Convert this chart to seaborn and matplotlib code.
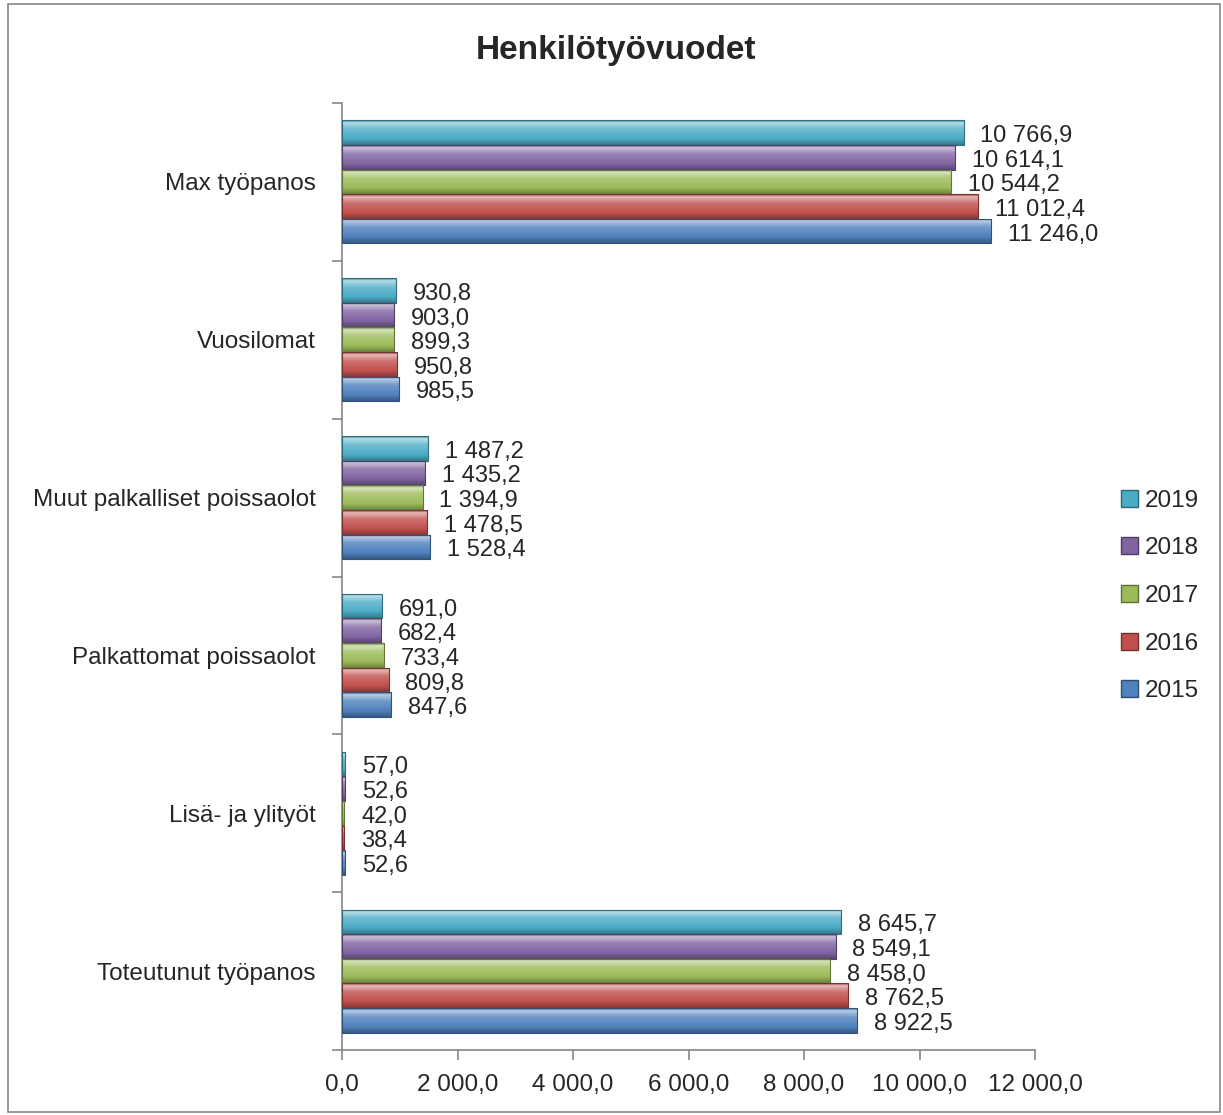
import numpy as np
import pandas as pd
import matplotlib
matplotlib.use("Agg")
import matplotlib.pyplot as plt
import matplotlib.colors as mcolors
from matplotlib.patches import Patch, Rectangle
import seaborn as sns

# Data
categories = ["Max työpanos", "Vuosilomat", "Muut palkalliset poissaolot",
              "Palkattomat poissaolot", "Lisä- ja ylityöt", "Toteutunut työpanos"]
years = ["2019", "2018", "2017", "2016", "2015"]
v2015 = [11246.0, 985.5, 1528.4, 847.6, 52.6, 8922.5]
v2016 = [11012.4, 950.8, 1478.5, 809.8, 38.4, 8762.5]
v2017 = [10544.2, 899.3, 1394.9, 733.4, 42.0, 8458.0]
v2018 = [10614.1, 903.0, 1435.2, 682.4, 52.6, 8549.1]
v2019 = [10766.9, 930.8, 1487.2, 691.0, 57.0, 8645.7]
colors = {"2019": "#4BACC6", "2018": "#8064A2", "2017": "#9BBB59",
          "2016": "#C0504D", "2015": "#4F81BD"}

series = {"2015": v2015, "2016": v2016, "2017": v2017, "2018": v2018, "2019": v2019}
rows = []
for y, vals in series.items():
    for c, v in zip(categories, vals):
        rows.append({"Kategoria": c, "Vuosi": y, "Arvo": v})
df = pd.DataFrame(rows)


def fi(v):
    return f"{v:,.1f}".replace(",", " ").replace(".", ",")


sns.set_style("white")
plt.rcParams["font.family"] = ["Liberation Sans Narrow", "Liberation Sans", "DejaVu Sans"]

fig = plt.figure(figsize=(12.23, 11.15), dpi=100)
ax = fig.add_axes([342 / 1223, 1 - 1050 / 1115, (1035 - 342) / 1223, (1050 - 103) / 1115])

sns.barplot(data=df, x="Arvo", y="Kategoria", hue="Vuosi", order=categories,
            hue_order=years, palette=colors, orient="h", width=0.78, ax=ax,
            errorbar=None, legend=False)

ax.set_xlim(0, 12000)
xlim, ylim = ax.get_xlim(), ax.get_ylim()

# bevel-like gradient fill for every bar
for cont, yr in zip(ax.containers, years):
    base = np.array(mcolors.to_rgb(colors[yr]))
    light = base + (1 - base) * 0.6
    dark = base * 0.7
    stops = [(0.0, dark * 0.9 + light * 0.1), (0.1, light), (0.35, base + (1 - base) * 0.2),
             (0.75, base), (1.0, dark)]
    cmap = mcolors.LinearSegmentedColormap.from_list("g" + yr, stops)
    grad = np.linspace(0, 1, 64).reshape(-1, 1)
    for p in cont:
        x0, y0, w, h = p.get_x(), p.get_y(), p.get_width(), p.get_height()
        im = ax.imshow(grad, cmap=cmap, extent=(x0, x0 + w, y0 + h, y0), origin="upper",
                       aspect="auto", zorder=2, interpolation="bilinear")
        im.set_clip_path(p)
        p.set_facecolor("none")
        p.set_edgecolor(tuple(dark * 0.9))
        p.set_linewidth(0.8)
        p.set_zorder(3)

ax.set_xlim(xlim)
ax.set_ylim(ylim)

for cont, yr in zip(ax.containers, years):
    anns = ax.bar_label(cont, labels=[fi(v) for v in series[yr]], padding=12, fontsize=17)
    for a in anns:
        a.xyann = (a.xyann[0], -2.5)

# axes styling
for s in ["top", "right"]:
    ax.spines[s].set_visible(False)
for s in ["left", "bottom"]:
    ax.spines[s].set_color("#868686")
    ax.spines[s].set_linewidth(1.2)

ax.set_xticks(np.arange(0, 12001, 2000))
ax.set_xticklabels([fi(t) for t in np.arange(0, 12001, 2000)], fontsize=17.5)
ax.tick_params(axis="x", bottom=True, direction="out", length=7, width=1.2,
               color="#868686", pad=10.5)
ax.tick_params(axis="y", which="major", left=False, length=0, pad=19, labelsize=17.5)
ax.set_yticks(np.arange(-0.5, len(categories), 1), minor=True)
ax.tick_params(axis="y", which="minor", left=True, direction="out", length=7, width=1.2,
               color="#868686")
ax.set_xlabel("")
ax.set_ylabel("")

fig.text(616 / 1223, 1 - 50 / 1115, "Henkilötyövuodet", ha="center", va="center",
         fontsize=24, fontweight="bold")

handles = [Patch(facecolor=colors[y], edgecolor=tuple(np.array(mcolors.to_rgb(colors[y])) * 0.6),
                 label=y) for y in years]
fig.legend(handles=handles, loc="center", bbox_to_anchor=(1160 / 1223, 1 - 596 / 1115),
           frameon=False, fontsize=17.5, handlelength=0.7, handleheight=0.7,
           handletextpad=0.3, labelspacing=1.05)

fig.add_artist(Rectangle((8 / 1223, 3 / 1115), 1212 / 1223, 1108 / 1115,
                         transform=fig.transFigure, fill=False, edgecolor="#868686", lw=1.2))

fig.savefig("out.png", dpi=100)
